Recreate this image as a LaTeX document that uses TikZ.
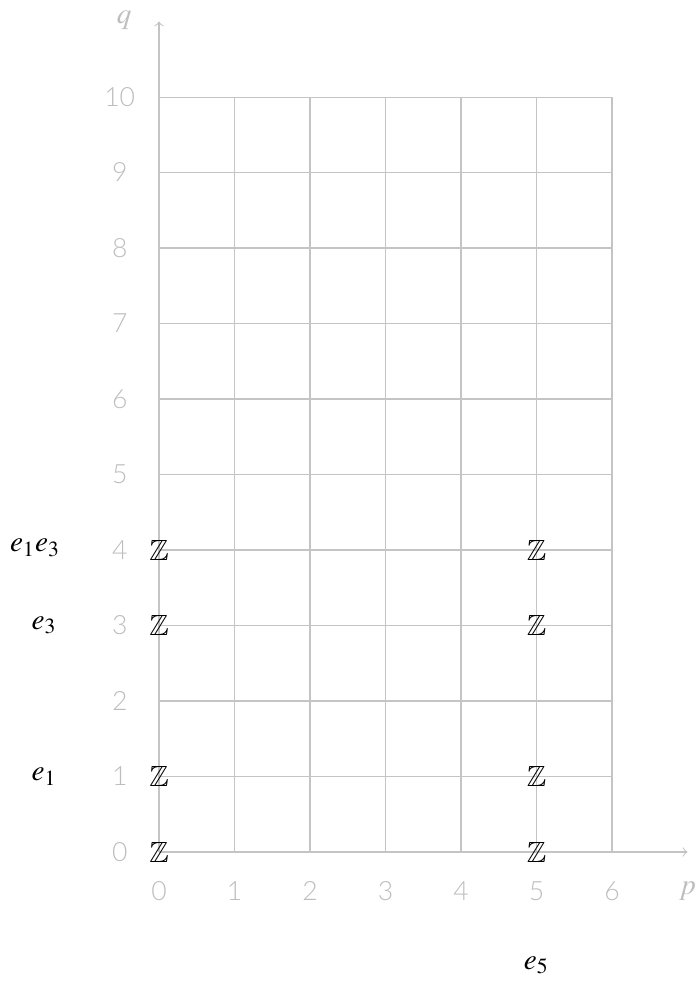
\documentclass[tikz,border=0pt]{standalone}
\usepackage{amssymb}
\usepackage{mathptmx}
\usepackage{fontspec}
\newfontfamily\lightf{Lato Light}
\definecolor{gridgray}{HTML}{C4C4C4}
\definecolor{labgray}{HTML}{BDBDBD}
\begin{document}
\begin{tikzpicture}[
  gridline/.style={draw=gridgray, line width=0.4pt},
  axisline/.style={draw=gridgray, line width=0.4pt, -to},
  ticklab/.style={text=labgray, font=\lightf\fontsize{10}{12}\selectfont, inner sep=0pt},
  axlab/.style={text=labgray, inner sep=0pt, font=\fontsize{11}{13}\selectfont},
  zz/.style={inner sep=0pt, font=\fontsize{11}{13}\selectfont},
  gen/.style={inner sep=0pt, font=\fontsize{11}{13}\selectfont}
]
\useasboundingbox (-2.106,-1.735) rectangle (7.152,11.285);
\draw[gridline] (0,0) grid (6,10);
\coordinate (o) at (0,0);
\coordinate (xend) at (7.0,0);
\coordinate (yend) at (0,11.0);
\draw[axisline] (o) -- (xend);
\draw[axisline] (o) -- (yend);
\foreach \i in {0,...,6} \node[ticklab] (xl\i) at (\i,-0.52) {\i};
\foreach \j in {0,...,10} \node[ticklab] (yl\j) at (-0.52,\j) {\j};
\node[axlab] (plab) at (7.0,-0.52) {$p$};
\node[axlab] (qlab) at (-0.46,11.02) {$q$};
\foreach \x in {0,5} \foreach \y in {0,1,3,4} \node[zz] (z\x\y) at (\x,\y) {$\mathbb{Z}$};
\node[gen] (g13) at (-1.64,4.03) {$e_1e_3$};
\node[gen] (g3) at (-1.52,3.0) {$e_3$};
\node[gen] (g1) at (-1.52,1.0) {$e_1$};
\node[gen] (g5) at (5.0,-1.5) {$e_5$};
\end{tikzpicture}
\end{document}
